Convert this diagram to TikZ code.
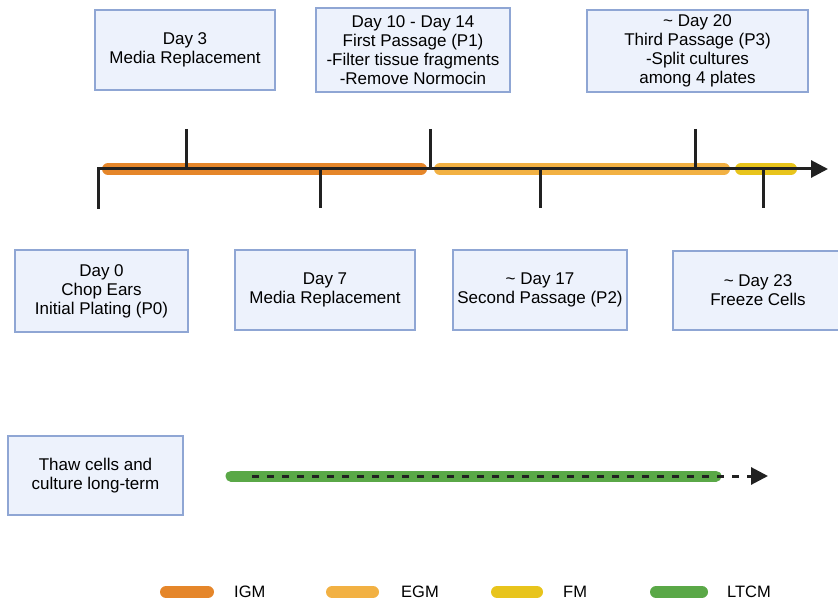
\documentclass[tikz,border=0pt]{standalone}
\usepackage{fontspec}
\setmainfont{Liberation Sans}
\usetikzlibrary{arrows.meta}
\definecolor{boxfill}{RGB}{237,242,252}
\definecolor{boxline}{RGB}{143,166,212}
\definecolor{igmcol}{RGB}{229,134,42}
\definecolor{egmcol}{RGB}{242,177,67}
\definecolor{fmcol}{RGB}{232,196,28}
\definecolor{ltcmcol}{RGB}{90,168,71}
\definecolor{ink}{RGB}{33,33,33}
\begin{document}
\begin{tikzpicture}[x=1pt, y=-1pt,
    stage/.style={rectangle, draw=boxline, fill=boxfill, line width=2.5pt, align=center, inner sep=2pt, font=\fontsize{17}{19}\selectfont},
    medium/.style={line width=12pt, line cap=round},
    axis/.style={ink, line width=3pt},
    tipend/.style={-{Triangle[length=17pt, width=17pt]}},
    legendtext/.style={anchor=west, inner sep=0pt, font=\fontsize{16.5}{19}\selectfont}
  ]
  \useasboundingbox (0,0) rectangle (838,601);

  % stages above the timeline
  \node[stage, minimum width=180, minimum height=80] (d3) at (185,50) {Day 3\\Media Replacement};
  \node[stage, minimum width=194, minimum height=84] (d10) at (413,50) {Day 10 - Day 14\\First Passage (P1)\\-Filter tissue fragments\\-Remove Normocin};
  \node[stage, minimum width=221, minimum height=82] (d20) at (697.5,51) {\textasciitilde{} Day 20\\Third Passage (P3)\\-Split cultures\\among 4 plates};

  % stages below the timeline
  \node[stage, minimum width=173, minimum height=82] (d0) at (101.5,291) {Day 0\\Chop Ears\\Initial Plating (P0)};
  \node[stage, minimum width=180, minimum height=80] (d7) at (325,290) {Day 7\\Media Replacement};
  \node[stage, minimum width=174, minimum height=80] (d17) at (540,290) {\textasciitilde{} Day 17\\Second Passage (P2)};
  \node[stage, minimum width=170, minimum height=79] (d23) at (758,290.5) {\textasciitilde{} Day 23\\Freeze Cells};

  % media bars
  \draw[medium, igmcol] (108,169) -- (421,169);
  \draw[medium, egmcol] (440,169) -- (724,169);
  \draw[medium, fmcol] (741,169) -- (791,169);

  % timeline
  \coordinate (start) at (98,209);
  \coordinate (corner) at (98,169);
  \coordinate (end) at (828,169);
  \draw[axis, tipend] (start) -- (corner) -- (end);

  \coordinate (t3) at (186,129);
  \coordinate (t10) at (430,129);
  \coordinate (t20) at (695,129);
  \coordinate (t7) at (320,208);
  \coordinate (t17) at (540,208);
  \coordinate (t23) at (763,208);
  \foreach \t in {t3,t10,t20,t7,t17,t23}
    \draw[axis] (\t) -- (\t |- corner);

  % long-term culture
  \node[stage, minimum width=175, minimum height=79] (thaw) at (95.5,475.5) {Thaw cells and\\culture long-term};
  \draw[medium, line width=11pt, ltcmcol] (231,476) -- (716,476);
  \coordinate (lt start) at (252,476);
  \coordinate (lt end) at (768,476);
  \draw[axis, tipend, dash pattern=on 7pt off 8pt] (lt start) -- (lt end);

  % legend
  \draw[medium, igmcol] (166,592) -- (208,592);
  \node[legendtext] (igm) at (234,592) {IGM};
  \draw[medium, egmcol] (332,592) -- (373,592);
  \node[legendtext] (egm) at (401,592) {EGM};
  \draw[medium, fmcol] (497,592) -- (537,592);
  \node[legendtext] (fm) at (563,592) {FM};
  \draw[medium, ltcmcol] (656,592) -- (702,592);
  \node[legendtext] (ltcm) at (727,592) {LTCM};
\end{tikzpicture}
\end{document}
